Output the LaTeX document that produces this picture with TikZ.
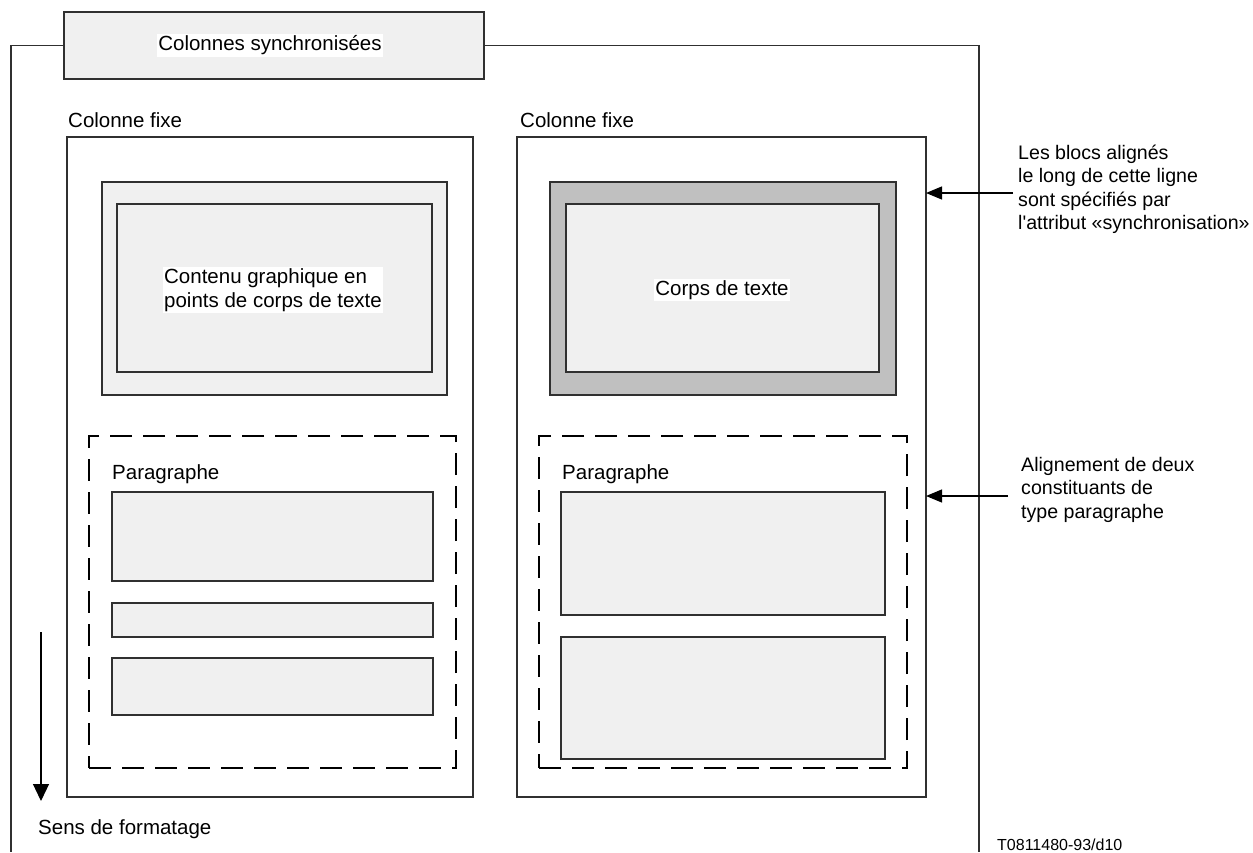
\documentclass[tikz,border=0pt]{standalone}
\usepackage{fontspec}
\setmainfont{Liberation Sans}
\usetikzlibrary{fit,arrows.meta}
\definecolor{lightfill}{HTML}{F0F0F0}
\definecolor{darkfill}{HTML}{C0C0C0}
\definecolor{edge}{HTML}{303030}
\begin{document}
\begin{tikzpicture}[x=1pt,y=-1pt,
  font=\fontsize{20.5}{23.5}\selectfont,
  frame/.style={draw=edge,line width=1.2pt,inner sep=0pt,outer sep=0pt},
  plainbox/.style={frame},
  shadebox/.style={frame,fill=lightfill},
  darkbox/.style={frame,fill=darkfill},
  dashbox/.style={draw=black,line width=1.5pt,dash pattern=on 22pt off 11pt,inner sep=0pt},
  label/.style={inner sep=0pt,anchor=base west},
  whitelabel/.style={fill=white,inner sep=1.5pt},
  note/.style={inner sep=0pt,anchor=north west,align=left,font=\fontsize{19.6}{23.3}\selectfont},
  pointer/.style={draw=black,line width=1.2pt,-{Triangle[length=16pt,width=13pt]}}]
\useasboundingbox (0,0) rectangle (1253,852);

% title box and the enclosing frame
\node[shadebox,fit={(64,12) (484,79)}] (title) {};
\node[whitelabel] (titletext) at (270,45.5) {Colonnes synchronisées};
\coordinate (fl) at (11,45.5);
\coordinate (fr) at (979,45.5);
\draw[draw=edge,line width=1.2pt] (title.west) -- (fl) -- (fl |- 0,852);
\draw[draw=edge,line width=1.2pt] (title.east) -- (fr) -- (fr |- 0,852);

% left fixed column
\node[label] (lcolname) at (68,127) {Colonne fixe};
\node[plainbox,fit={(67,137) (473,797)}] (lcol) {};
\node[shadebox,fit={(102,182) (447,395)}] (lgraph) {};
\node[shadebox,fit={(117,204) (432,372)}] (lgraphin) {};
\node[whitelabel,align=left] (lgraphtext) at (273,290) {Contenu graphique en\\points de corps de texte};
\node[dashbox,fit={(89,436) (456,768)}] (lpara) {};
\node[label] (lparaname) at (112,479) {Paragraphe};
\node[shadebox,fit={(112,492) (433,581)}] (lp1) {};
\node[shadebox,fit={(112,603) (433,637)}] (lp2) {};
\node[shadebox,fit={(112,658) (433,715)}] (lp3) {};

% right fixed column
\node[label] (rcolname) at (520,127) {Colonne fixe};
\node[plainbox,fit={(517,137) (926,797)}] (rcol) {};
\node[darkbox,fit={(550,182) (896,395)}] (rtext) {};
\node[shadebox,fit={(566,204) (879,372)}] (rtextin) {};
\node[whitelabel] (rtexttext) at (722,290) {Corps de texte};
\node[dashbox,fit={(539,436) (907,768)}] (rpara) {};
\node[label] (rparaname) at (562,479) {Paragraphe};
\node[shadebox,fit={(561,492) (885,615)}] (rp1) {};
\node[shadebox,fit={(561,637) (885,759)}] (rp2) {};

% annotations on the right
\node[note] (note1) at (1018,145) {Les blocs alignés\\le long de cette ligne\\sont spécifiés par\\l\textquotesingle attribut «synchronisation»};
\node[note] (note2) at (1021,457) {Alignement de deux\\constituants de\\type paragraphe};
\coordinate (n1s) at (1013,193);
\coordinate (n2s) at (1008,496);
\draw[pointer] (n1s) -- (n1s -| rcol.east);
\draw[pointer] (n2s) -- (n2s -| rcol.east);

% formatting direction
\coordinate (dirs) at (41,632);
\coordinate (dire) at (41,801);
\draw[pointer,-{Triangle[length=17pt,width=16pt]}] (dirs) -- (dire);
\node[label] (dirtext) at (38,834) {Sens de formatage};

% reference number
\node[label,font=\fontsize{16}{19}\selectfont] (ref) at (997,850) {T0811480-93/d10};
\end{tikzpicture}
\end{document}
